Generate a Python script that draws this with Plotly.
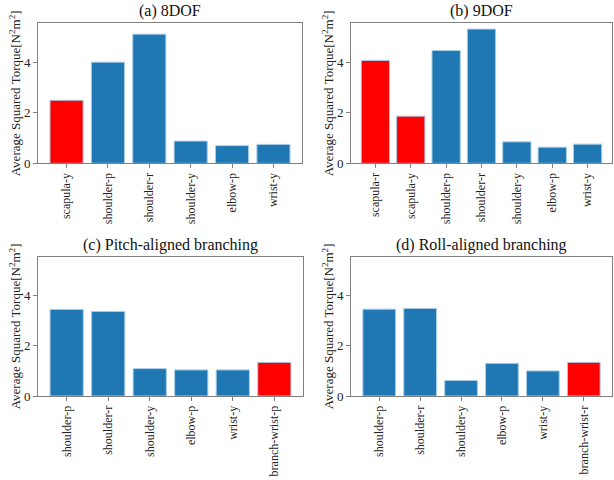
import plotly.graph_objects as go

W, H = 614, 480

titles = ["(a) 8DOF", "(b) 9DOF", "(c) Pitch-aligned branching", "(d) Roll-aligned branching"]

cats_a = ["scapula-y", "shoulder-p", "shoulder-r", "shoulder-y", "elbow-p", "wrist-y"]
vals_a = [2.50, 4.01, 5.12, 0.88, 0.70, 0.75]
red_a = [True, False, False, False, False, False]

cats_b = ["scapula-r", "scapula-y", "shoulder-p", "shoulder-r", "shoulder-y", "elbow-p", "wrist-y"]
vals_b = [4.08, 1.87, 4.47, 5.32, 0.85, 0.64, 0.76]
red_b = [True, True, False, False, False, False, False]

cats_c = ["shoulder-p", "shoulder-r", "shoulder-y", "elbow-p", "wrist-y", "branch-wrist-p"]
vals_c = [3.45, 3.37, 1.09, 1.04, 1.04, 1.34]
red_c = [False, False, False, False, False, True]

cats_d = ["shoulder-p", "shoulder-r", "shoulder-y", "elbow-p", "wrist-y", "branch-wrist-r"]
vals_d = [3.46, 3.49, 0.62, 1.30, 1.00, 1.34]
red_d = [False, False, False, False, False, True]

y_ticks = [0, 2, 4]
y_max = 5.55

BLUE = "#1f77b4"
RED = "#ff0000"
EDGE = "#a9cde6"
SPINE = "#808080"
FONT = "Liberation Serif, Times New Roman, serif"

# panel geometry in pixels (left, right, top, bottom)
boxes = [(38, 302, 23.3, 163.3), (351, 612, 23.3, 163.3),
         (38, 303, 256.7, 396), (351, 612, 256.7, 396)]

panels = [(cats_a, vals_a, red_a), (cats_b, vals_b, red_b),
          (cats_c, vals_c, red_c), (cats_d, vals_d, red_d)]

fig = go.Figure()
layout = dict(template="none", width=W, height=H, margin=dict(l=0, r=0, t=0, b=0, autoexpand=False),
              paper_bgcolor="white", plot_bgcolor="white",
              showlegend=False, bargap=0.2,
              font=dict(family=FONT, size=12, color="#222222"))
annotations = []

ylabel = "Average Squared Torque[N<sup>2</sup>m<sup>2</sup>]"
ylabel_x = [15, 328]

for i, ((cats, vals, reds), box, title) in enumerate(zip(panels, boxes, titles)):
    k = "" if i == 0 else str(i + 1)
    l, r, t, b = box
    n = len(cats)
    colors = [RED if rd else BLUE for rd in reds]
    fig.add_trace(go.Bar(x=list(range(n)), y=vals, xaxis="x" + k, yaxis="y" + k,
                         marker=dict(color=colors, line=dict(color=EDGE, width=1)),
                         width=0.8))
    axcommon = dict(showline=True, mirror=True, linecolor=SPINE, linewidth=1,
                    ticks="outside", ticklen=4, tickcolor=SPINE, showgrid=False,
                    zeroline=False, automargin=False)
    layout["xaxis" + k] = dict(domain=[l / W, r / W], anchor="y" + k,
                               range=[-0.69, n - 1 + 0.69],
                               tickmode="array", tickvals=list(range(n)), ticktext=cats,
                               tickangle=-90,
                               tickfont=dict(family=FONT, size=12, color="#222222"),
                               **axcommon)
    layout["yaxis" + k] = dict(domain=[1 - b / H, 1 - t / H], anchor="x" + k,
                               range=[0, y_max], tickmode="array", tickvals=y_ticks,
                               ticktext=[str(v) for v in y_ticks],
                               tickfont=dict(family=FONT, size=13, color="#222222"),
                               **axcommon)
    annotations.append(dict(text=title, x=(l + r) / 2 / W, y=1 - t / H + 1 / H,
                            xref="paper", yref="paper", xanchor="center", yanchor="bottom",
                            showarrow=False, font=dict(family=FONT, size=16, color="#111111")))
    annotations.append(dict(text=ylabel, x=ylabel_x[i % 2] / W, y=1 - (t + b) / 2 / H,
                            xref="paper", yref="paper", xanchor="center", yanchor="middle",
                            textangle=-90, showarrow=False,
                            font=dict(family=FONT, size=13, color="#222222")))

layout["annotations"] = annotations
fig.update_layout(**layout)
fig.write_html("out.html", config={"displayModeBar": False},
               post_script="document.body.style.margin='0';document.body.style.overflow='hidden';")
